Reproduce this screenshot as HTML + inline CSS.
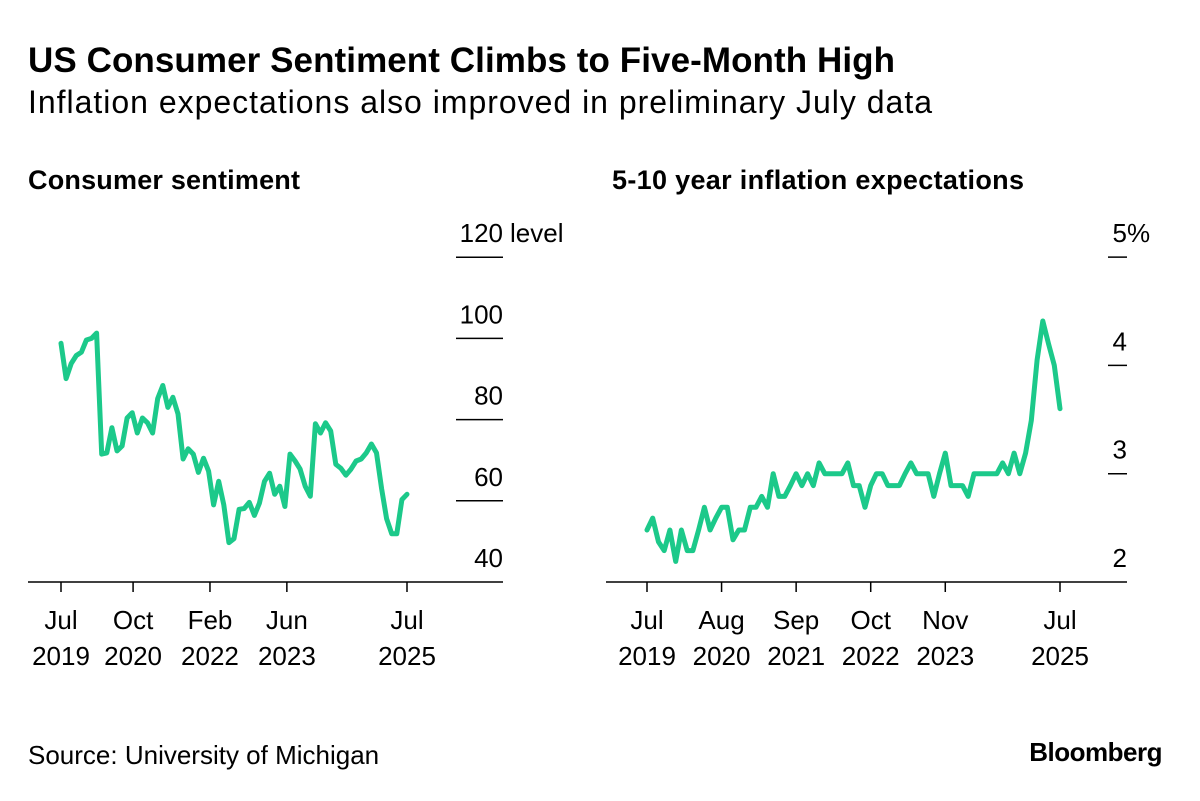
<!DOCTYPE html>
<html><head><meta charset="utf-8"><style>
body{margin:0;background:#fff;width:1200px;height:796px;overflow:hidden;font-family:"Liberation Sans",sans-serif;}
svg text{font-family:"Liberation Sans",sans-serif;fill:#000;}
</style></head><body>
<svg width="1200" height="796">
<text x="28" y="72" font-size="35" font-weight="bold" letter-spacing="0" textLength="867">US Consumer Sentiment Climbs to Five-Month High</text>
<text x="28" y="113" font-size="32" textLength="904">Inflation expectations also improved in preliminary July data</text>
<text x="28" y="189" font-size="27" font-weight="bold" textLength="272">Consumer sentiment</text>
<text x="612" y="189" font-size="27" font-weight="bold" textLength="412">5-10 year inflation expectations</text>
<g id="left"></g><g id="right"></g>
<text x="28" y="764" font-size="26">Source: University of Michigan</text>
<text x="1162" y="761" font-size="26" font-weight="bold" text-anchor="end" letter-spacing="-0.5">Bloomberg</text>
</svg>
<script>
const sentiment=[98.8,90.1,93.8,95.8,96.6,99.6,100,101.3,71.5,71.8,78,72.3,73.5,80.4,81.7,76.7,80.4,79.2,76.7,85.2,88.4,83,85.5,81.4,70.3,72.8,71.5,67,70.5,67.3,59,64.8,59,49.7,50.7,57.9,58.1,59.6,56.4,59.4,64.8,66.8,61.6,63.6,58.6,71.5,69.8,67.8,63.6,61.1,79,76.7,79.2,77.2,69,68,66.3,67.8,69.8,70.3,71.8,74,71.8,63,55.6,51.9,51.9,60.3,61.6];
const inflation=[2.48,2.59,2.37,2.29,2.48,2.19,2.48,2.29,2.29,2.48,2.69,2.48,2.59,2.69,2.69,2.39,2.48,2.48,2.69,2.69,2.79,2.69,3.0,2.79,2.79,2.89,3.0,2.89,3.0,2.89,3.1,3.0,3.0,3.0,3.0,3.1,2.89,2.89,2.69,2.89,3.0,3.0,2.89,2.89,2.89,3.0,3.1,3.0,3.0,3.0,2.79,3.0,3.19,2.89,2.89,2.89,2.79,3.0,3.0,3.0,3.0,3.0,3.1,3.0,3.19,3.0,3.19,3.49,4.05,4.41,4.2,4.0,3.6];
const leftTicks=[40,60,80,100,120];
const rightTicks=[2,3,4,5];
const xMonthLabels=["Jul","Oct","Feb","Jun","Jul"];
const xYearLabels=["2019","2020","2022","2023","2025"];
const xLabelMonths=[0,15,31,47,72];
const rMonthLabels=["Jul","Aug","Sep","Oct","Nov","Jul"];
const rYearLabels=["2019","2020","2021","2022","2023","2025"];
const rLabelMonths=[0,13,26,39,52,72];
const NS="http://www.w3.org/2000/svg";
function mk(parent,tag,attrs,text){const e=document.createElementNS(NS,tag);for(const k in attrs)e.setAttribute(k,attrs[k]);if(text!==undefined)e.textContent=text;parent.appendChild(e);return e;}
function panel(g,cfg){
  const x=m=>cfg.x0+(cfg.x1-cfg.x0)*m/72;
  const y=v=>cfg.yBase-(v-cfg.vmin)*cfg.ppu;
  const ax=mk(g,'line',{x1:cfg.axL,x2:cfg.axR,y1:582,y2:582,stroke:'#000','stroke-width':1.5});
  
  
  cfg.ticks.forEach((t,i)=>{
    if(i>0){const l=mk(g,'line',{x1:cfg.tL,x2:cfg.tR,y1:y(t),y2:y(t),stroke:'#000','stroke-width':1.5});
      
      }
    const tx=mk(g,'text',{x:cfg.tR,y:y(t)-15,'font-size':26,'text-anchor':'end'},String(t));
    
    
    if(i===cfg.ticks.length-1){const u=mk(g,'text',{x:cfg.tR+(cfg.unit==='%'?0:7),y:y(t)-15,'font-size':26},cfg.unit);
      
      }
  });
  cfg.lm.forEach((m,i)=>{
    const l=mk(g,'line',{x1:x(m),x2:x(m),y1:582,y2:592,stroke:'#000','stroke-width':1.5});
    
    
    const a=mk(g,'text',{x:x(m),y:629,'font-size':26,'text-anchor':'middle'},cfg.mo[i]);
    
    
    const b=mk(g,'text',{x:x(m),y:665,'font-size':26,'text-anchor':'middle'},cfg.yr[i]);
    
    
  });
  const n=cfg.data.length;
  const d=cfg.data.map((v,i)=>(i?'L':'M')+x(72*i/(n-1)).toFixed(1)+','+y(v).toFixed(1)).join('');
  const p=mk(g,'path',{d:d,fill:'none',stroke:'#1cc98a','stroke-width':5,'stroke-linejoin':'round','stroke-linecap':'round'});
  
  
}
panel(document.getElementById('left'),{p:'sentiment',data:sentiment,x0:61,x1:407,vmin:40,yBase:582,ppu:4.06,axL:28,axR:503,tL:456,tR:503,ticks:leftTicks,unit:'level',lm:xLabelMonths,mo:xMonthLabels,yr:xYearLabels});
panel(document.getElementById('right'),{p:'inflation',data:inflation,x0:647,x1:1060,vmin:2,yBase:582,ppu:108.3,axL:606,axR:1127,tL:1108,tR:1127,ticks:rightTicks,unit:'%',lm:rLabelMonths,mo:rMonthLabels,yr:rYearLabels});
</script>
</body></html>
